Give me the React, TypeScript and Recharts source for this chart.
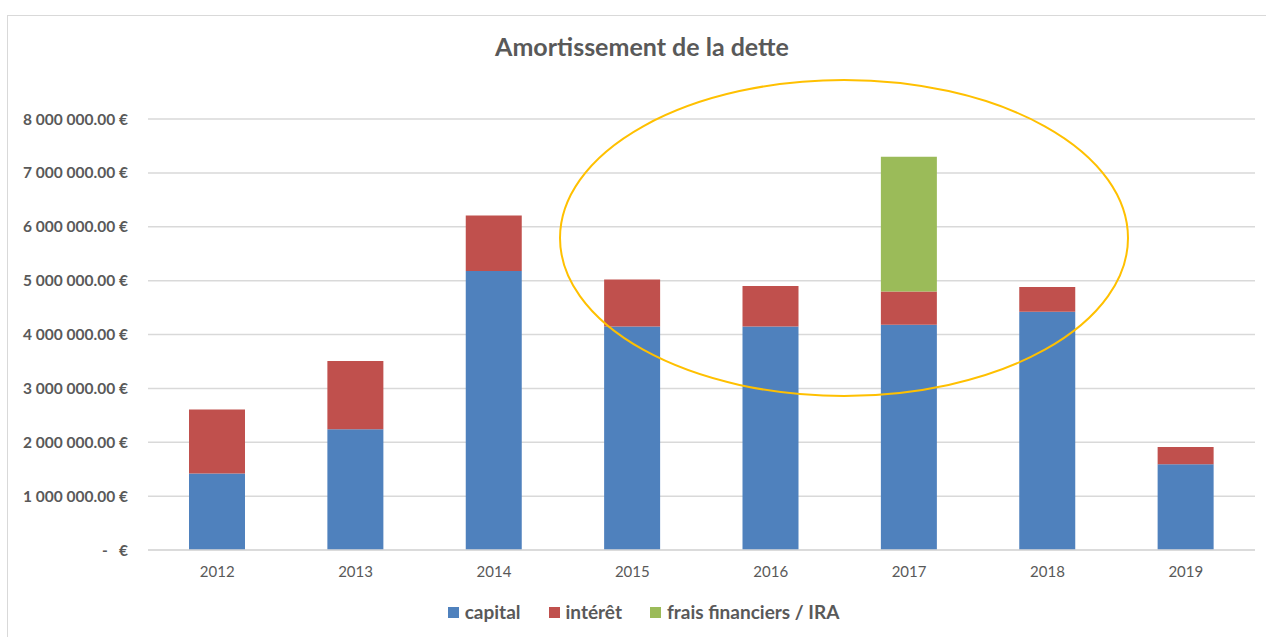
import React from "react";
import { BarChart, Bar, XAxis, YAxis, CartesianGrid } from "recharts";

const years = ["2012", "2013", "2014", "2015", "2016", "2017", "2018", "2019"];
const capital = [1420000, 2240000, 5180000, 4150000, 4150000, 4180000, 4420000, 1590000];
const interet = [1190000, 1270000, 1030000, 870000, 750000, 620000, 460000, 320000];
const frais = [0, 0, 0, 0, 0, 2500000, 0, 0];
const yTicks = [0, 1000000, 2000000, 3000000, 4000000, 5000000, 6000000, 7000000, 8000000];

const seriesNames = ["capital", "intérêt", "frais financiers / IRA"];
const seriesColors = ["#4F81BD", "#C0504D", "#9BBB59"];

const data = years.map((y, i) => ({
  year: y,
  capital: capital[i],
  interet: interet[i],
  frais: frais[i],
}));

const TEXT = "#595959";
const FONT = "Lato, 'Open Sans', sans-serif";

function fmtEuro(v: number): string {
  if (v === 0) return "-\u00A0\u00A0\u00A0€";
  const s = v.toFixed(2);
  const [int, dec] = s.split(".");
  const grouped = int.replace(/\B(?=(\d{3})+(?!\d))/g, " ");
  return `${grouped}.${dec} €`;
}

export default function App() {
  return (
    <div style={{ position: "absolute", left: 0, top: 0, width: 1266, height: 637, background: "#fff", fontFamily: FONT, overflow: "hidden" }}>
      <div style={{ position: "absolute", left: 7, top: 15, width: 1270, height: 640, border: "1px solid #d9d9d9", boxSizing: "border-box" }} />
      <div style={{ position: "absolute", left: 0, top: 34, width: 1284, textAlign: "center", fontSize: 25, lineHeight: "25px", fontWeight: 700, color: TEXT }}>
        Amortissement de la dette
      </div>
      <div style={{ position: "absolute", left: 0, top: 0 }}>
        <BarChart width={1266} height={637} data={data} margin={{ top: 119, right: 11, left: 0, bottom: 57 }}>
          <CartesianGrid vertical={false} stroke="#d9d9d9" strokeWidth={1.5} />
          <XAxis
            dataKey="year"
            height={30}
            tickLine={false}
            axisLine={{ stroke: "#d9d9d9", strokeWidth: 1.5 }}
            tick={{ fill: TEXT, fontSize: 15, fontFamily: FONT }}
            tickMargin={10}
          />
          <YAxis
            width={148}
            domain={[0, 8000000]}
            ticks={yTicks}
            interval={0}
            tickLine={false}
            axisLine={false}
            tickFormatter={fmtEuro}
            tickMargin={14}
            tick={{ fill: TEXT, fontSize: 15.5, fontWeight: 700, fontFamily: FONT }}
          />
          <Bar dataKey="capital" stackId="a" fill={seriesColors[0]} barSize={56} isAnimationActive={false} />
          <Bar dataKey="interet" stackId="a" fill={seriesColors[1]} barSize={56} isAnimationActive={false} />
          <Bar dataKey="frais" stackId="a" fill={seriesColors[2]} barSize={56} isAnimationActive={false} />
        </BarChart>
      </div>
      <svg width={1266} height={637} style={{ position: "absolute", left: 0, top: 0, pointerEvents: "none" }}>
        <ellipse cx={844} cy={238} rx={284} ry={158} fill="none" stroke="#FFC000" strokeWidth={2} />
      </svg>
      <div style={{ position: "absolute", left: 0, top: 600, width: 1287, display: "flex", justifyContent: "center", gap: 28, fontSize: 19, lineHeight: "24px", fontWeight: 700, color: TEXT }}>
        {seriesNames.map((n, i) => (
          <div key={n} style={{ display: "flex", alignItems: "center", gap: 6 }}>
            <span style={{ display: "inline-block", width: 11, height: 11, background: seriesColors[i] }} />
            <span>{n}</span>
          </div>
        ))}
      </div>
    </div>
  );
}
